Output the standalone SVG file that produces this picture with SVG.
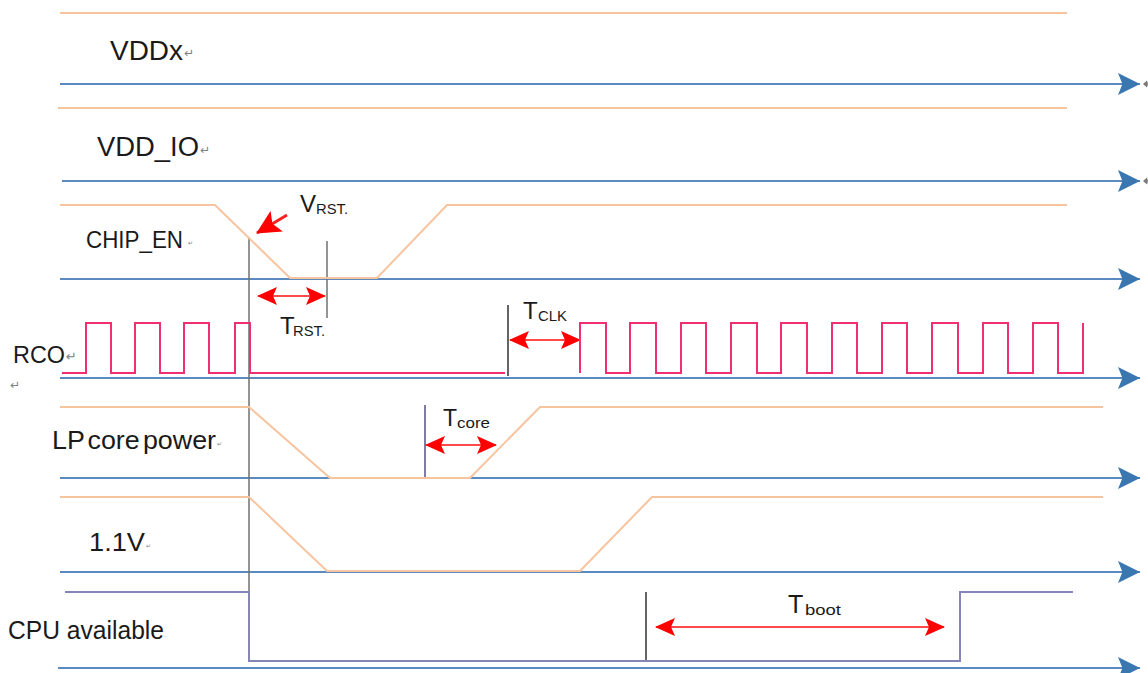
<svg xmlns="http://www.w3.org/2000/svg" width="1148" height="673" viewBox="0 0 1148 673">
<defs>
<style>
.lbl{font-family:"Liberation Sans",Arial,sans-serif;fill:#1a1a1a}
.sub{font-family:"Liberation Sans",Arial,sans-serif;fill:#1a1a1a;font-size:15px}
.pm{font-family:"DejaVu Sans",sans-serif;fill:#808080}
.axis{stroke:#5a8ac0;stroke-width:2;fill:none;marker-end:url(#ba)}
.pwr{stroke:#f7c4a0;stroke-width:2;fill:none}
.rco{stroke:#f0306e;stroke-width:2;fill:none}
.cpu{stroke:#8585b8;stroke-width:2;fill:none}
.vl{stroke:#707070;stroke-width:1.5}
.vd{stroke:#303030;stroke-width:1.5}
.dim{stroke:#ff4a4a;stroke-width:2;fill:none;marker-start:url(#ra);marker-end:url(#ra)}
.dot{fill:#7a7a7a}
</style>
<marker id="ba" markerUnits="userSpaceOnUse" markerWidth="22" markerHeight="22" viewBox="0 0 20 20" refX="20" refY="10" orient="auto">
<path d="M0,0 L20,10 L0,20 L4,10 Z" fill="#3a76b0"/>
</marker>
<marker id="ra" markerUnits="userSpaceOnUse" markerWidth="20" markerHeight="18" viewBox="0 0 20 18" refX="19" refY="9" orient="auto-start-reverse">
<path d="M0,0 L20,9 L0,18 L4,9 Z" fill="#ff0000"/>
</marker>
<marker id="va" markerUnits="userSpaceOnUse" markerWidth="24" markerHeight="24" viewBox="0 0 24 24" refX="23" refY="12" orient="auto">
<path d="M0,0 L24,12 L0,24 L5,12 Z" fill="#ff0000"/>
</marker>
</defs>

<g id="connectors">
<line class="axis" x1="60" y1="84" x2="1140" y2="84"/>
<line class="axis" x1="62" y1="181" x2="1140" y2="181"/>
<line class="axis" x1="60" y1="279" x2="1140" y2="279"/>
<line class="axis" x1="60" y1="378" x2="1140" y2="378"/>
<line class="axis" x1="60" y1="478" x2="1140" y2="478"/>
<line class="axis" x1="60" y1="572" x2="1140" y2="572"/>
<line class="axis" x1="58" y1="668" x2="1140" y2="668"/>
<polygon class="dot" points="1143,84 1147,80.5 1148,84 1147,87.5"/>
<polygon class="dot" points="1143,181 1147,177.5 1148,181 1147,184.5"/>
<line class="vl" x1="249" y1="237" x2="249" y2="592"/>
<line class="vl" x1="327" y1="241" x2="327" y2="318"/>
<line class="vd" x1="508" y1="305" x2="508" y2="376"/>
<line x1="425" y1="405" x2="425" y2="478" stroke="#50508a" stroke-width="1.5"/>
<line class="vd" x1="646" y1="592" x2="646" y2="661"/>
<line class="dim" x1="258" y1="296" x2="325" y2="296"/>
<line class="dim" x1="510" y1="340" x2="580" y2="340"/>
<line class="dim" x1="426" y1="445" x2="496" y2="445"/>
<line class="dim" x1="656" y1="627" x2="944" y2="627"/>
<line x1="287" y1="215" x2="257" y2="233" stroke="#ff2020" stroke-width="3" marker-end="url(#va)"/>
</g>

<g id="vddx">
<line class="pwr" x1="60" y1="13" x2="1067" y2="13"/>
<text class="lbl" x="110" y="60" font-size="28" textLength="73" lengthAdjust="spacingAndGlyphs">VDDx</text>
<text class="pm" x="184" y="57" font-size="12">↵</text>
</g>

<g id="vdd_io">
<line class="pwr" x1="58" y1="108" x2="1067" y2="108"/>
<text class="lbl" x="97" y="156" font-size="27" textLength="102" lengthAdjust="spacingAndGlyphs">VDD_IO</text>
<text class="pm" x="200" y="154" font-size="12">↵</text>
</g>

<g id="chip_en">
<polyline class="pwr" points="60,205 215,205 290,278 377,278 447,205 1067,205"/>
<text class="lbl" x="86" y="248" font-size="24" textLength="97" lengthAdjust="spacingAndGlyphs">CHIP_EN</text>
<text class="pm" x="188" y="245" font-size="6">↵</text>
<text class="lbl" x="300" y="212" font-size="24">V</text>
<text class="sub" x="316" y="214" textLength="32" lengthAdjust="spacingAndGlyphs">RST.</text>
<text class="lbl" x="280" y="334" font-size="24">T</text>
<text class="sub" x="293" y="336" textLength="32" lengthAdjust="spacingAndGlyphs">RST.</text>
</g>

<g id="rco">
<polyline class="rco" points="62,373 86,373 86,323 111,323 111,373 135,373 135,323 160,323 160,373 184,373 184,323 209,323 209,373 235,373 235,323 250,323 250,373 505,373"/>
<polyline class="rco" points="580,373 580,323 606,323 606,373 630,373 630,323 656,323 656,373 681,373 681,323 706,323 706,373 731,373 731,323 757,323 757,373 781,373 781,323 807,323 807,373 832,373 832,323 857,323 857,373 882,373 882,323 907,323 907,373 932,373 932,323 958,323 958,373 983,373 983,323 1008,323 1008,373 1033,373 1033,323 1058,323 1058,373 1083,373 1083,323"/>
<text class="lbl" x="13" y="363" font-size="24" textLength="52" lengthAdjust="spacingAndGlyphs">RCO</text>
<text class="pm" x="66" y="361" font-size="13">↵</text>
<text class="pm" x="10" y="389" font-size="12">↵</text>
<text class="lbl" x="523" y="319" font-size="24">T</text>
<text class="sub" x="538" y="321" textLength="29" lengthAdjust="spacingAndGlyphs">CLK</text>
</g>

<g id="lp_core_power">
<polyline class="pwr" points="60,407 249,407 330,478 470,478 540,407 1103,407"/>
<text class="lbl" x="52" y="449" font-size="25" textLength="164" lengthAdjust="spacingAndGlyphs" word-spacing="-4">LP core power</text>
<text class="pm" x="217" y="446" font-size="6">↵</text>
<text class="lbl" x="443" y="426" font-size="23">T</text>
<text class="sub" x="457" y="428" textLength="33" lengthAdjust="spacingAndGlyphs">core</text>
</g>

<g id="v11">
<polyline class="pwr" points="60,497 249,497 327,571 580,571 652,497 1103,497"/>
<text class="lbl" x="89" y="551" font-size="26" textLength="56" lengthAdjust="spacingAndGlyphs">1.1V</text>
<text class="pm" x="146" y="548" font-size="6">↵</text>
</g>

<g id="cpu_available">
<polyline class="cpu" points="65,592 249,592 249,661 960,661 960,592 1073,592"/>
<text class="lbl" x="8" y="639" font-size="25" textLength="156" lengthAdjust="spacingAndGlyphs">CPU available</text>
<text class="pm" x="165" y="637" font-size="5">.</text>
<text class="lbl" x="788" y="613" font-size="25">T</text>
<text class="sub" x="805" y="615" font-size="17" textLength="36" lengthAdjust="spacingAndGlyphs">boot</text>
</g>
</svg>
